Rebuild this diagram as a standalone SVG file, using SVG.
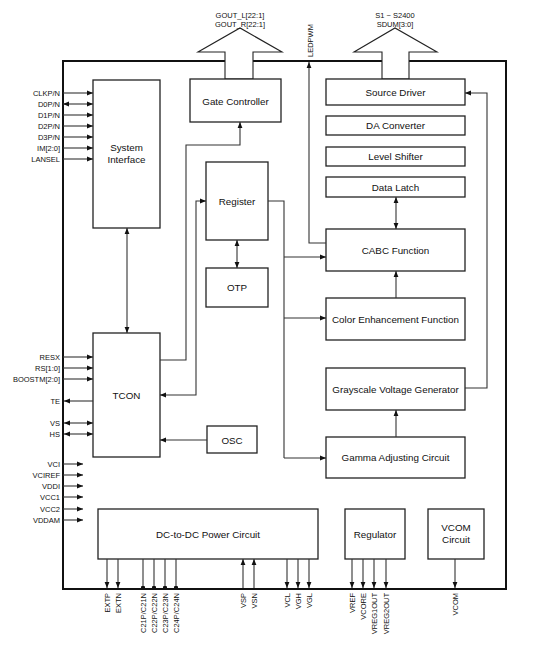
<svg xmlns="http://www.w3.org/2000/svg" width="553" height="646" viewBox="0 0 553 646">
<defs>
<marker id="ah" viewBox="0 0 10 10" refX="10" refY="5" markerWidth="6" markerHeight="6" markerUnits="userSpaceOnUse" orient="auto-start-reverse"><path d="M0,1 L10,5 L0,9 z" fill="#111"/></marker>
<marker id="dot" viewBox="0 0 10 10" refX="5" refY="5" markerWidth="4.5" markerHeight="4.5" markerUnits="userSpaceOnUse"><circle cx="5" cy="5" r="5" fill="#111"/></marker>
<style>
.box{fill:#fff;stroke:#222;stroke-width:1.3}
.t{font-family:"Liberation Sans",Arial,sans-serif;font-size:9.8px;fill:#111;text-anchor:middle}
.s{font-family:"Liberation Sans",Arial,sans-serif;font-size:7.5px;fill:#111}
.r{text-anchor:end}
.c{fill:none;stroke:#333;stroke-width:1.1}
.a{marker-end:url(#ah)}
.b{marker-start:url(#ah);marker-end:url(#ah)}
.d{marker-end:url(#dot)}
</style>
</defs>
<rect width="553" height="646" fill="#fff"/>
<rect id="outer" x="63" y="61" width="443" height="528" fill="none" stroke="#111" stroke-width="2"/>

<g id="gout-arrow">
<polygon points="225,79 225,52 198,52 240,28 282,52 253,52 253,79" fill="#fff" stroke="#222" stroke-width="1.1"/>
<text class="s" x="240" y="18" text-anchor="middle">GOUT_L[22:1]</text>
<text class="s" x="240" y="27" text-anchor="middle">GOUT_R[22:1]</text>
</g>
<g id="source-arrow">
<polygon points="382,79 382,52 354,52 395,28 437,52 409,52 409,79" fill="#fff" stroke="#222" stroke-width="1.1"/>
<text class="s" x="395" y="17.5" text-anchor="middle">S1 ~ S2400</text>
<text class="s" x="395" y="26.5" text-anchor="middle">SDUM[3:0]</text>
</g>

<g id="gate-controller"><rect class="box" x="190" y="79" width="91" height="43"/><text class="t" x="235.5" y="104.5">Gate Controller</text></g>
<g id="source-driver"><rect class="box" x="326" y="79" width="139" height="26"/><text class="t" x="395.5" y="95.5">Source Driver</text></g>
<g id="da-converter"><rect class="box" x="326" y="116" width="139" height="19"/><text class="t" x="395.5" y="129">DA Converter</text></g>
<g id="level-shifter"><rect class="box" x="326" y="147" width="139" height="19"/><text class="t" x="395.5" y="160">Level Shifter</text></g>
<g id="data-latch"><rect class="box" x="326" y="177" width="139" height="20"/><text class="t" x="395.5" y="190.5">Data Latch</text></g>
<g id="system-interface"><rect class="box" x="93" y="80" width="67" height="148"/><text class="t" x="126.5" y="151">System</text><text class="t" x="126.5" y="163">Interface</text></g>
<g id="register"><rect class="box" x="206" y="162" width="62" height="78"/><text class="t" x="237" y="204.5">Register</text></g>
<g id="otp"><rect class="box" x="206" y="268" width="62" height="39"/><text class="t" x="237" y="290.5">OTP</text></g>
<g id="cabc"><rect class="box" x="326" y="229" width="139" height="42"/><text class="t" x="395.5" y="253.5">CABC Function</text></g>
<g id="color-enh"><rect class="box" x="326" y="298" width="139" height="42"/><text class="t" x="395.5" y="322.5">Color Enhancement Function</text></g>
<g id="grayscale"><rect class="box" x="326" y="368" width="139" height="42"/><text class="t" x="395.5" y="392.5">Grayscale Voltage Generator</text></g>
<g id="gamma"><rect class="box" x="326" y="437" width="139" height="41"/><text class="t" x="395.5" y="461">Gamma Adjusting Circuit</text></g>
<g id="tcon"><rect class="box" x="93" y="333" width="67" height="124"/><text class="t" x="126.5" y="398.5">TCON</text></g>
<g id="osc"><rect class="box" x="207" y="426" width="50" height="27"/><text class="t" x="232" y="443.5">OSC</text></g>
<g id="dcdc"><rect class="box" x="98" y="509" width="220" height="50"/><text class="t" x="208" y="537.5">DC-to-DC Power Circuit</text></g>
<g id="regulator"><rect class="box" x="345" y="509" width="60" height="50"/><text class="t" x="375" y="537.5">Regulator</text></g>
<g id="vcom-circuit"><rect class="box" x="428" y="509" width="56" height="50"/><text class="t" x="456" y="531">VCOM</text><text class="t" x="456" y="543">Circuit</text></g>

<g id="connectors">
<line class="c a" x1="63" y1="93" x2="93" y2="93"/>
<line class="c b" x1="63" y1="104" x2="93" y2="104"/>
<line class="c a" x1="63" y1="115" x2="93" y2="115"/>
<line class="c a" x1="63" y1="126" x2="93" y2="126"/>
<line class="c a" x1="63" y1="137" x2="93" y2="137"/>
<line class="c a" x1="63" y1="148" x2="93" y2="148"/>
<line class="c a" x1="63" y1="159" x2="93" y2="159"/>
<line class="c a" x1="63" y1="357" x2="93" y2="357"/>
<line class="c a" x1="63" y1="368" x2="93" y2="368"/>
<line class="c a" x1="63" y1="379" x2="93" y2="379"/>
<line class="c a" x1="93" y1="401" x2="64" y2="401"/>
<line class="c b" x1="64" y1="423" x2="93" y2="423"/>
<line class="c b" x1="64" y1="434" x2="93" y2="434"/>
<line class="c a" x1="63" y1="464" x2="83" y2="464"/>
<line class="c a" x1="63" y1="475" x2="83" y2="475"/>
<line class="c a" x1="63" y1="486" x2="83" y2="486"/>
<line class="c a" x1="63" y1="497" x2="83" y2="497"/>
<line class="c a" x1="63" y1="509" x2="83" y2="509"/>
<line class="c a" x1="63" y1="520" x2="83" y2="520"/>
<line class="c b" x1="127" y1="228" x2="127" y2="333"/>
<polyline class="c a" points="160,360 186,360 186,145 240,145 240,122"/>
<polyline class="c b" points="206,201 196,201 196,395 160,395"/>
<line class="c b" x1="237" y1="240" x2="237" y2="268"/>
<polyline class="c" points="268,201 284,201 284,458"/>
<line class="c a" x1="284" y1="257" x2="326" y2="257"/>
<line class="c a" x1="284" y1="318" x2="326" y2="318"/>
<line class="c a" x1="284" y1="458" x2="326" y2="458"/>
<line class="c a" x1="207" y1="440" x2="160" y2="440"/>
<line class="c b" x1="396" y1="197" x2="396" y2="229"/>
<line class="c a" x1="396" y1="298" x2="396" y2="271"/>
<line class="c a" x1="396" y1="437" x2="396" y2="410"/>
<polyline class="c a" points="465,388 487,388 487,93 465,93"/>
<polyline class="c a" points="326,243 309,243 309,62"/>
<line class="c a" x1="107" y1="559" x2="107" y2="588"/>
<line class="c a" x1="118" y1="559" x2="118" y2="588"/>
<line class="c d" x1="143" y1="559" x2="143" y2="588"/>
<line class="c d" x1="154" y1="559" x2="154" y2="588"/>
<line class="c d" x1="165" y1="559" x2="165" y2="588"/>
<line class="c d" x1="176" y1="559" x2="176" y2="588"/>
<line class="c a" x1="243" y1="588" x2="243" y2="559"/>
<line class="c a" x1="254" y1="588" x2="254" y2="559"/>
<line class="c a" x1="287" y1="559" x2="287" y2="588"/>
<line class="c a" x1="298" y1="559" x2="298" y2="588"/>
<line class="c a" x1="309" y1="559" x2="309" y2="588"/>
<line class="c a" x1="352" y1="559" x2="352" y2="588"/>
<line class="c a" x1="363" y1="559" x2="363" y2="588"/>
<line class="c a" x1="374" y1="559" x2="374" y2="588"/>
<line class="c a" x1="386" y1="559" x2="386" y2="588"/>
<line class="c a" x1="455" y1="559" x2="455" y2="588"/>
</g>

<g id="labels">
<text class="s r" x="60" y="96">CLKP/N</text>
<text class="s r" x="60" y="107">D0P/N</text>
<text class="s r" x="60" y="118">D1P/N</text>
<text class="s r" x="60" y="129">D2P/N</text>
<text class="s r" x="60" y="140">D3P/N</text>
<text class="s r" x="60" y="151">IM[2:0]</text>
<text class="s r" x="60" y="162">LANSEL</text>
<text class="s r" x="60" y="360">RESX</text>
<text class="s r" x="60" y="371">RS[1:0]</text>
<text class="s r" x="60" y="382">BOOSTM[2:0]</text>
<text class="s r" x="60" y="404">TE</text>
<text class="s r" x="60" y="426">VS</text>
<text class="s r" x="60" y="437">HS</text>
<text class="s r" x="60" y="467">VCI</text>
<text class="s r" x="60" y="478">VCIREF</text>
<text class="s r" x="60" y="489">VDDI</text>
<text class="s r" x="60" y="500">VCC1</text>
<text class="s r" x="60" y="512">VCC2</text>
<text class="s r" x="60" y="523">VDDAM</text>
<text class="s" transform="translate(312.5,57) rotate(-90)">LEDPWM</text>
<text class="s r" transform="translate(109.7,593) rotate(-90)">EXTP</text>
<text class="s r" transform="translate(120.7,593) rotate(-90)">EXTN</text>
<text class="s r" transform="translate(145.7,593) rotate(-90)">C21P/C21N</text>
<text class="s r" transform="translate(156.7,593) rotate(-90)">C22P/C22N</text>
<text class="s r" transform="translate(167.7,593) rotate(-90)">C23P/C23N</text>
<text class="s r" transform="translate(178.7,593) rotate(-90)">C24P/C24N</text>
<text class="s r" transform="translate(245.7,593) rotate(-90)">VSP</text>
<text class="s r" transform="translate(256.7,593) rotate(-90)">VSN</text>
<text class="s r" transform="translate(289.7,593) rotate(-90)">VCL</text>
<text class="s r" transform="translate(300.7,593) rotate(-90)">VGH</text>
<text class="s r" transform="translate(311.7,593) rotate(-90)">VGL</text>
<text class="s r" transform="translate(354.7,593) rotate(-90)">VREF</text>
<text class="s r" transform="translate(365.7,593) rotate(-90)">VCORE</text>
<text class="s r" transform="translate(376.7,593) rotate(-90)">VREG1OUT</text>
<text class="s r" transform="translate(388.7,593) rotate(-90)">VREG2OUT</text>
<text class="s r" transform="translate(457.7,593) rotate(-90)">VCOM</text>
</g>
</svg>
